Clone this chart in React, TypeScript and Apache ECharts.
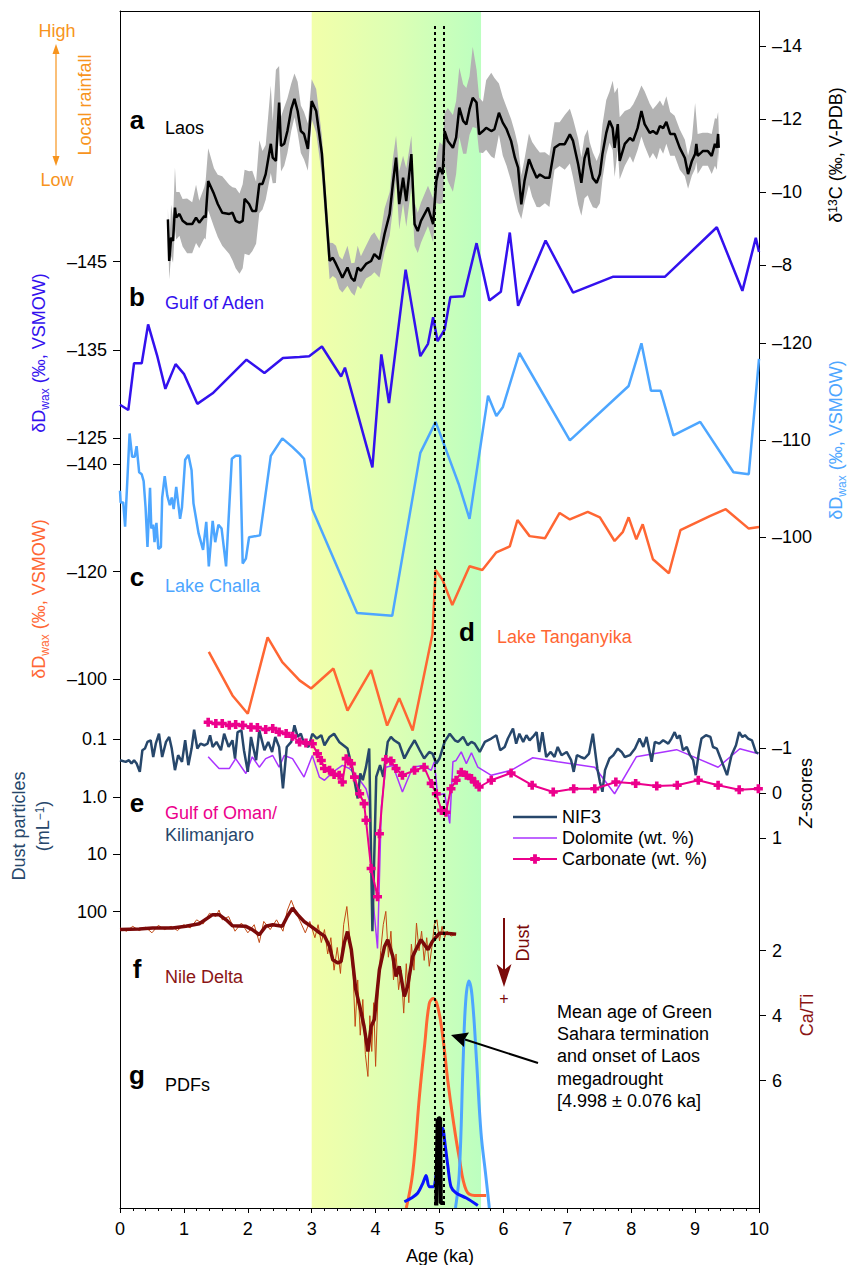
import React, { useEffect, useRef } from 'react';
import * as echarts from 'echarts';

// ---------- DATA ----------
// a: Laos stalagmite d13C (permil V-PDB): [age ka, d13C, band above, band below]
const laos: [number, number, number, number][] = [
  [0.75,-9.25,0.3,0.2],[0.77,-8.11,0.4,0.5],[0.80,-8.75,0.9,0.5],[0.83,-8.66,0.6,0.6],[0.86,-9.57,1.1,0.6],
  [0.88,-9.30,0.7,0.6],[0.93,-9.40,0.6,0.6],[0.98,-9.21,0.6,0.7],[1.05,-9.12,0.7,0.8],[1.13,-9.12,0.6,0.8],
  [1.19,-9.30,0.9,0.7],[1.24,-9.16,0.6,0.7],[1.32,-9.34,0.8,0.6],[1.34,-9.30,1.0,0.6],[1.38,-10.30,0.9,0.8],
  [1.47,-9.95,0.7,0.9],[1.53,-9.67,0.8,0.9],[1.60,-9.43,1.0,0.9],[1.71,-9.40,0.8,1.1],[1.76,-9.43,0.7,1.3],
  [1.81,-9.21,0.9,1.3],[1.87,-9.16,0.8,1.4],[1.92,-9.21,1.0,1.3],[1.95,-9.81,0.8,1.5],[2.02,-9.67,0.9,1.4],
  [2.07,-9.48,1.1,1.1],[2.13,-9.48,0.8,0.9],[2.18,-10.22,1.2,0.8],[2.23,-10.22,0.9,0.7],[2.28,-10.49,0.8,0.7],
  [2.36,-11.32,1.6,0.8],[2.39,-10.94,1.0,0.7],[2.44,-10.85,2.5,0.6],[2.49,-12.45,1.0,0.8],[2.52,-11.26,0.8,0.7],
  [2.57,-11.32,1.0,0.6],[2.62,-11.67,0.9,0.6],[2.68,-12.27,0.7,0.6],[2.73,-12.55,0.7,0.5],[2.78,-12.22,0.8,0.6],
  [2.83,-11.67,0.7,0.6],[2.88,-11.59,0.6,0.7],[2.94,-11.18,0.7,0.6],[3.00,-12.49,0.6,0.5],[3.07,-12.22,0.6,0.6],
  [3.16,-11.04,0.5,0.6],[3.28,-8.11,0.5,0.5],[3.33,-8.20,0.4,0.5],[3.38,-8.03,0.5,0.4],[3.43,-7.84,0.4,0.5],
  [3.48,-7.65,0.5,0.4],[3.56,-7.93,0.6,0.5],[3.62,-7.65,0.4,0.4],[3.67,-7.56,0.5,0.4],[3.72,-7.93,0.6,0.5],
  [3.77,-7.84,0.4,0.5],[3.85,-8.03,0.5,0.4],[3.93,-8.11,0.7,0.4],[3.98,-8.30,0.6,0.5],[4.06,-8.16,0.5,0.5],
  [4.14,-8.85,0.7,0.5],[4.22,-9.40,0.6,0.6],[4.27,-10.22,0.7,0.7],[4.32,-10.94,0.6,0.6],[4.37,-9.67,0.9,0.7],
  [4.43,-10.39,0.6,0.7],[4.48,-9.75,0.9,0.7],[4.56,-11.04,0.5,0.9],[4.61,-9.12,0.6,0.6],[4.66,-8.93,0.5,0.6],
  [4.71,-9.21,0.5,0.6],[4.82,-9.57,0.6,0.5],[4.90,-9.12,0.7,0.5],[4.95,-10.30,0.6,0.6],[5.00,-10.67,0.7,1.0],
  [5.05,-10.49,0.8,0.8],[5.08,-11.67,0.5,0.9],[5.13,-11.40,0.9,1.1],[5.21,-11.21,0.9,1.2],[5.26,-11.49,1.0,1.0],
  [5.31,-12.31,1.1,0.8],[5.37,-11.95,1.0,0.9],[5.42,-11.85,1.0,0.8],[5.47,-12.27,0.9,0.7],[5.52,-12.58,1.4,0.8],
  [5.58,-12.45,0.9,0.7],[5.62,-11.58,1.0,0.5],[5.68,-11.67,0.8,0.6],[5.73,-11.76,1.3,0.6],[5.81,-11.67,1.6,0.7],
  [5.86,-11.72,1.4,0.8],[5.93,-12.17,0.8,0.6],[5.99,-11.90,0.7,0.9],[6.05,-11.72,0.6,1.0],[6.12,-11.40,0.6,1.1],
  [6.18,-10.94,0.7,1.1],[6.23,-10.67,0.6,1.2],[6.28,-9.66,0.8,0.4],[6.33,-10.30,0.6,0.6],[6.40,-10.90,0.7,0.7],
  [6.45,-10.67,0.7,0.8],[6.52,-10.39,0.8,0.8],[6.57,-10.48,0.6,0.9],[6.65,-10.39,0.7,0.7],[6.72,-10.39,0.6,0.8],
  [6.80,-11.21,0.7,0.6],[6.88,-11.31,0.6,0.6],[6.96,-11.31,0.8,0.7],[7.04,-11.58,0.7,0.8],[7.09,-11.40,0.6,1.0],
  [7.17,-10.76,0.7,1.1],[7.22,-10.25,0.7,0.9],[7.27,-10.93,0.6,1.1],[7.32,-11.21,0.5,1.3],[7.35,-10.77,0.6,1.0],
  [7.40,-10.38,0.7,0.8],[7.46,-10.25,0.6,0.7],[7.51,-10.49,0.6,0.8],[7.55,-11.04,0.8,0.7],[7.61,-11.62,0.9,0.6],
  [7.66,-11.95,0.8,0.6],[7.71,-11.75,1.3,0.6],[7.74,-11.21,1.5,0.8],[7.79,-11.86,1.0,0.7],[7.82,-10.85,1.2,0.5],
  [7.90,-11.32,0.9,0.6],[7.98,-11.48,0.8,0.5],[8.03,-11.40,1.0,0.6],[8.10,-11.75,0.9,0.6],[8.16,-12.22,0.7,0.7],
  [8.21,-11.86,0.9,0.6],[8.29,-11.62,0.8,0.7],[8.34,-11.67,0.6,0.6],[8.40,-11.59,0.8,0.7],[8.45,-11.81,0.7,0.6],
  [8.50,-11.75,0.6,0.7],[8.55,-11.92,0.7,0.6],[8.61,-11.59,0.6,0.6],[8.68,-11.59,0.5,0.6],[8.76,-11.21,0.5,0.6],
  [8.84,-10.93,0.5,0.5],[8.89,-10.49,0.5,0.4],[8.95,-10.85,0.6,0.4],[9.00,-11.04,1.4,0.4],[9.02,-11.32,0.7,0.5],
  [9.04,-10.99,0.6,0.5],[9.12,-11.12,0.5,0.4],[9.20,-11.12,0.5,0.4],[9.26,-10.99,0.6,0.5],[9.31,-11.32,0.7,0.6],
  [9.34,-11.21,0.8,0.6],[9.36,-11.59,0.6,0.5],[9.37,-11.21,0.5,0.4],
];

// b: Gulf of Aden dDwax (permil VSMOW)
const aden: [number, number][] = [
  [0.00,-128.8],[0.13,-128.2],[0.22,-133.5],[0.34,-133.5],[0.44,-137.9],[0.58,-134.4],[0.71,-130.6],[0.87,-133.4],
  [1.00,-132.3],[1.21,-128.9],[1.45,-130.1],[1.98,-133.9],[2.26,-132.4],[2.55,-134.1],[2.81,-134.2],[2.96,-134.3],
  [3.16,-135.4],[3.46,-132.0],[3.52,-133.0],[3.95,-121.7],[4.09,-134.5],[4.21,-129.0],[4.47,-144.1],[4.70,-134.3],
  [4.82,-135.7],[4.90,-138.7],[4.97,-136.0],[5.08,-137.3],[5.17,-141.0],[5.38,-141.1],[5.58,-147.1],[5.78,-140.6],
  [5.96,-141.6],[6.10,-148.3],[6.23,-140.0],[6.66,-147.4],[7.09,-141.5],[7.72,-143.3],[8.53,-143.3],[9.34,-148.9],
  [9.74,-141.7],[9.95,-147.7],[10.0,-146.1],
];

// c: Lake Challa dDwax (permil VSMOW)
const challa: [number, number][] = [
  [0.00,-104.8],[0.01,-103.6],[0.05,-103.6],[0.08,-101.1],[0.15,-110.7],[0.19,-108.3],[0.23,-108.3],[0.26,-109.4],
  [0.30,-106.7],[0.34,-106.5],[0.37,-105.8],[0.40,-103.1],[0.43,-99.0],[0.47,-105.1],[0.49,-100.9],[0.52,-101.3],
  [0.54,-99.5],[0.57,-101.5],[0.60,-98.8],[0.64,-99.0],[0.66,-104.1],[0.70,-106.3],[0.74,-104.3],[0.78,-103.3],
  [0.81,-104.1],[0.84,-102.9],[0.88,-105.2],[0.94,-101.9],[0.97,-103.1],[1.02,-108.0],[1.07,-108.5],[1.12,-106.9],
  [1.15,-103.5],[1.23,-100.4],[1.30,-98.7],[1.35,-101.6],[1.39,-97.0],[1.45,-101.7],[1.49,-99.5],[1.54,-101.3],
  [1.59,-100.9],[1.66,-97.0],[1.75,-108.1],[1.81,-108.4],[1.88,-108.4],[1.92,-97.3],[1.97,-97.8],[2.02,-100.0],
  [2.19,-100.2],[2.36,-108.4],[2.54,-110.2],[2.70,-109.3],[2.81,-108.6],[2.88,-108.1],[3.01,-102.9],[3.71,-92.2],
  [4.26,-91.9],[4.70,-108.7],[4.94,-111.9],[5.30,-105.5],[5.47,-101.9],[5.76,-114.6],[5.89,-112.5],[5.99,-113.4],
  [6.25,-119.0],[7.04,-110.0],[7.96,-115.6],[8.16,-120.0],[8.31,-115.1],[8.46,-115.1],[8.66,-110.5],[9.08,-111.9],
  [9.60,-106.7],[9.84,-106.5],[10.0,-118.4],
];

// d: Lake Tanganyika dDwax (permil VSMOW)
const tanganyika: [number, number][] = [
  [1.39,-105.1],[1.76,-97.0],[2.00,-93.6],[2.31,-107.8],[2.54,-103.2],[2.81,-99.8],[2.99,-98.3],[3.34,-102.0],
  [3.56,-94.2],[3.93,-101.7],[4.18,-91.4],[4.37,-96.5],[4.58,-90.5],[4.89,-108.4],[4.94,-120.3],[5.05,-118.4],
  [5.20,-113.8],[5.47,-121.0],[5.67,-120.3],[5.89,-123.6],[6.10,-124.7],[6.22,-129.6],[6.41,-126.6],[6.65,-126.2],
  [6.88,-130.9],[7.04,-129.7],[7.32,-131.1],[7.51,-130.1],[7.74,-125.7],[7.87,-127.4],[7.96,-130.1],[8.08,-126.0],
  [8.18,-128.8],[8.34,-122.3],[8.59,-119.7],[8.77,-127.7],[9.23,-130.3],[9.48,-131.6],[9.84,-128.0],[10.0,-128.3],
];

// e: Kilimanjaro NIF3 dust particles (mL-1)
const nif3: [number, number][] = [
  [0.00,0.231],[0.09,0.247],[0.14,0.231],[0.18,0.264],[0.22,0.231],[0.26,0.264],[0.31,0.369],[0.35,0.155],[0.39,0.145],[0.43,0.111],
  [0.48,0.104],[0.52,0.203],[0.56,0.119],[0.61,0.080],[0.66,0.203],[0.72,0.111],[0.77,0.091],[0.81,0.145],[0.86,0.344],[0.91,0.189],
  [0.97,0.247],[1.02,0.104],[1.07,0.282],[1.12,0.145],[1.16,0.068],[1.21,0.145],[1.26,0.119],[1.32,0.127],[1.37,0.119],[1.41,0.085],
  [1.45,0.136],[1.51,0.111],[1.58,0.155],[1.63,0.080],[1.70,0.136],[1.76,0.104],[1.80,0.216],[1.84,0.075],[1.90,0.070],[1.94,0.155],
  [2.00,0.369],[2.05,0.091],[2.13,0.231],[2.18,0.070],[2.26,0.155],[2.32,0.111],[2.38,0.166],[2.43,0.091],[2.49,0.136],[2.55,0.715],
  [2.61,0.136],[2.68,0.111],[2.73,0.057],[2.78,0.091],[2.83,0.080],[2.88,0.119],[2.95,0.136],[3.01,0.080],[3.08,0.097],[3.15,0.085],
  [3.20,0.127],[3.28,0.091],[3.35,0.080],[3.43,0.111],[3.56,0.145],[3.63,0.302],[3.72,1.07],[3.76,0.393],[3.80,0.514],[3.85,0.302],
  [3.90,0.145],[3.95,219],[4.01,0.450],[4.07,0.282],[4.12,0.450],[4.19,0.111],[4.24,0.091],[4.29,0.104],[4.37,0.119],[4.45,0.216],
  [4.53,0.145],[4.61,0.104],[4.69,0.155],[4.76,0.216],[4.84,0.166],[4.89,0.177],[4.95,0.264],[5.00,0.216],[5.08,0.111],[5.16,0.080],
  [5.24,0.104],[5.29,0.111],[5.37,0.091],[5.44,0.127],[5.50,0.111],[5.55,0.119],[5.63,0.166],[5.71,0.111],[5.81,0.097],[5.89,0.085],
  [5.95,0.155],[6.02,0.136],[6.07,0.097],[6.15,0.065],[6.20,0.119],[6.25,0.080],[6.31,0.111],[6.36,0.085],[6.41,0.104],[6.46,0.091],
  [6.52,0.075],[6.56,0.166],[6.61,0.075],[6.67,0.203],[6.74,0.166],[6.80,0.203],[6.85,0.136],[6.91,0.189],[6.99,0.166],[7.06,0.231],
  [7.10,0.369],[7.15,0.189],[7.21,0.203],[7.27,0.216],[7.34,0.177],[7.40,0.080],[7.47,0.322],[7.51,0.55],[7.55,0.819],[7.59,0.344],
  [7.66,0.216],[7.72,0.189],[7.79,0.145],[7.85,0.166],[7.90,0.203],[7.98,0.189],[8.06,0.145],[8.13,0.097],[8.19,0.136],[8.24,0.091],
  [8.32,0.247],[8.37,0.111],[8.44,0.119],[8.50,0.104],[8.58,0.119],[8.63,0.097],[8.68,0.075],[8.72,0.097],[8.76,0.085],[8.81,0.155],
  [8.87,0.136],[8.92,0.189],[8.97,0.231],[9.01,0.421],[9.06,0.166],[9.10,0.097],[9.17,0.085],[9.24,0.091],[9.28,0.136],[9.34,0.145],
  [9.39,0.203],[9.45,0.302],[9.50,0.421],[9.57,0.189],[9.64,0.127],[9.69,0.075],[9.74,0.091],[9.78,0.085],[9.83,0.097],[9.89,0.104],
  [9.95,0.166],[9.99,0.177],
];

// e: Gulf of Oman dolomite (Z-score)
const dolomite: [number, number][] = [
  [1.38,-0.81],[1.55,-0.55],[1.71,-0.55],[1.81,-0.77],[1.97,-0.44],[2.07,-0.81],[2.18,-0.58],[2.28,-0.77],[2.39,-0.84],
  [2.49,-0.58],[2.57,-0.84],[2.70,-0.77],[2.88,-0.36],[3.01,-0.84],[3.12,-0.36],[3.20,-0.29],[3.33,-0.47],[3.48,-0.62],
  [3.59,-0.55],[3.72,-0.36],[3.85,-0.10],[3.90,0.16],[3.95,2.23],[4.03,3.45],[4.09,0.30],[4.16,-0.58],[4.27,-0.62],
  [4.42,-0.03],[4.58,-0.58],[4.74,-0.62],[4.87,-0.51],[4.92,-0.70],[4.97,0.04],[5.08,0.01],[5.16,0.67],[5.21,-0.70],
  [5.26,-0.73],[5.34,-0.92],[5.42,-0.66],[5.50,-0.90],[5.60,-0.58],[5.81,-0.40],[6.12,-0.51],[6.46,-0.79],[6.85,-0.70],
  [7.43,-0.58],[7.74,0.01],[8.08,-0.81],[8.71,-0.97],[9.36,-0.58],[9.70,-0.99],[9.99,-0.88],
];

// e: Gulf of Oman carbonate (Z-score)
const carbonate: [number, number][] = [
  [1.38,-1.58],[1.50,-1.55],[1.60,-1.55],[1.71,-1.51],[1.81,-1.53],[1.92,-1.51],[2.05,-1.47],[2.15,-1.46],[2.28,-1.42],
  [2.39,-1.44],[2.49,-1.36],[2.60,-1.33],[2.70,-1.27],[2.81,-1.14],[2.91,-1.12],[3.01,-1.10],[3.09,-0.88],[3.15,-0.73],
  [3.20,-0.55],[3.28,-0.51],[3.35,-0.42],[3.43,-0.40],[3.48,-0.25],[3.54,-0.77],[3.62,-0.66],[3.67,-0.36],[3.75,0.01],
  [3.82,0.23],[3.85,0.60],[3.93,1.67],[4.03,2.30],[4.06,0.90],[4.16,-0.75],[4.24,-0.72],[4.32,-0.55],[4.42,-0.40],
  [4.61,-0.51],[4.76,-0.58],[4.87,-0.22],[4.95,0.01],[5.03,0.38],[5.10,0.42],[5.18,-0.10],[5.26,-0.29],[5.34,-0.47],
  [5.42,-0.40],[5.50,-0.33],[5.55,-0.25],[5.62,-0.14],[5.81,-0.29],[6.12,-0.45],[6.45,-0.18],[6.78,-0.03],[7.10,-0.10],
  [7.43,-0.10],[7.76,-0.25],[8.07,-0.22],[8.40,-0.16],[8.72,-0.18],[9.05,-0.29],[9.36,-0.18],[9.69,-0.08],[9.99,-0.10],
];

// f: Nile Delta Ca/Ti, raw and smoothed
const nileRaw: [number, number][] = [
  [0.00,1.30],[0.10,1.40],[0.20,1.25],[0.30,1.38],[0.40,1.28],[0.50,1.45],[0.60,1.22],[0.70,1.35],[0.80,1.25],[0.90,1.38],
  [1.00,1.20],[1.10,1.30],[1.20,1.05],[1.30,1.18],[1.40,0.85],[1.50,0.95],[1.55,0.75],[1.60,1.05],[1.70,0.95],[1.80,1.40],
  [1.90,1.15],[2.00,1.45],[2.10,1.20],[2.18,1.75],[2.25,1.10],[2.35,1.35],[2.45,1.05],[2.55,1.40],[2.62,0.75],[2.68,0.45],
  [2.75,0.80],[2.82,1.10],[2.90,1.45],[2.97,1.10],[3.05,1.60],[3.10,1.20],[3.15,1.75],[3.20,1.35],[3.25,2.10],[3.30,1.60],
  [3.35,2.60],[3.40,1.90],[3.45,2.70],[3.50,1.20],[3.55,0.64],[3.60,1.70],[3.65,2.80],[3.68,4.33],[3.72,2.90],[3.76,4.60],
  [3.80,3.50],[3.84,5.20],[3.88,5.87],[3.91,4.00],[3.94,5.10],[3.97,3.60],[4.00,5.56],[4.04,3.20],[4.08,2.00],[4.12,1.20],
  [4.16,0.79],[4.20,2.20],[4.24,1.40],[4.28,2.90],[4.32,2.10],[4.36,3.20],[4.40,2.60],[4.44,3.92],[4.48,2.40],[4.52,3.60],
  [4.56,1.80],[4.60,2.60],[4.64,1.15],[4.68,2.00],[4.72,1.40],[4.76,2.30],[4.80,1.60],[4.84,2.48],[4.88,1.90],[4.92,1.20],
  [4.96,1.05],[5.00,1.70],[5.04,1.25],[5.08,1.60],[5.12,1.40],[5.18,1.55],[5.26,1.50],
];
const nileSmooth: [number, number][] = [
  [0.00,1.35],[0.30,1.33],[0.51,1.30],[0.82,1.30],[1.03,1.25],[1.24,1.17],[1.45,0.89],[1.55,0.89],[1.66,1.05],[1.76,1.23],
  [1.97,1.25],[2.07,1.35],[2.18,1.51],[2.28,1.25],[2.39,1.20],[2.54,1.25],[2.62,0.94],[2.70,0.69],[2.78,0.89],[2.88,1.10],
  [2.99,1.25],[3.09,1.40],[3.20,1.55],[3.28,1.87],[3.33,2.28],[3.41,2.38],[3.46,2.33],[3.51,1.76],[3.56,1.41],[3.62,1.97],
  [3.69,3.20],[3.77,3.87],[3.82,4.33],[3.88,5.10],[3.93,4.33],[3.98,4.12],[4.06,2.58],[4.14,1.87],[4.19,1.66],[4.27,2.18],
  [4.32,2.79],[4.37,2.48],[4.45,3.41],[4.50,3.10],[4.58,2.18],[4.63,1.97],[4.71,1.66],[4.82,1.97],[4.89,1.71],[5.00,1.46],
  [5.10,1.46],[5.26,1.49],
];

// g: probability density functions of the termination age (arbitrary units)
const pdfTanganyika: [number, number][] = [
  [4.48,0],[4.58,0.14],[4.69,0.46],[4.77,0.66],[4.84,0.82],[4.90,0.84],[4.97,0.81],[5.05,0.69],[5.13,0.51],[5.21,0.36],
  [5.31,0.20],[5.42,0.07],[5.55,0.05],[5.73,0.05],
];
const pdfChalla: [number, number][] = [
  [5.25,0],[5.31,0.14],[5.37,0.59],[5.41,0.83],[5.46,0.91],[5.51,0.85],[5.58,0.59],[5.65,0.30],[5.72,0.14],[5.78,0],
];
const pdfAden: [number, number][] = [
  [4.45,0.025],[4.56,0.04],[4.66,0.06],[4.74,0.10],[4.79,0.13],[4.84,0.085],[4.90,0.085],[4.95,0.14],[5.00,0.25],[5.05,0.32],
  [5.09,0.25],[5.13,0.17],[5.18,0.085],[5.26,0.06],[5.42,0.04],[5.60,0.01],
];
const pdfLaos: [number, number][] = [
  [4.95,0.01],[4.97,0.35],[4.99,0.36],[5.01,0.36],[5.02,0.02],[5.08,0.02],
];

// shaded Green Sahara termination window and mean age bounds (ka)
const shadeRange = [3.0, 5.65];
const meanAge = 4.998;
const meanAgeErr = 0.076;

// axis tick values
const ticksAden = [-145, -135, -125];
const ticksTang = [-140, -120, -100];
const ticksDust = [0.1, 1, 10, 100];
const ticksD13C = [-14, -12, -10, -8];
const ticksChalla = [-120, -110, -100];
const ticksZ = [-1, 0, 1];
const ticksCaTi = [2, 4, 6];

// ---------- LAYOUT ----------
const FF = '"Liberation Sans", Arial, Helvetica, sans-serif';
const TOP = 11;
const BOT = 1208;
function span(v0: number, p0: number, v1: number, p1: number) {
  const k = (v1 - v0) / (p1 - p0);
  return { min: v0 - (p0 - TOP) * k, max: v0 + (BOT - p0) * k };
}

const C = {
  orangeR: '#f7941d',
  aden: '#3311ee',
  challa: '#4da6ff',
  tang: '#ff6633',
  nif: '#27476b',
  dol: '#aa33ff',
  carb: '#ec008c',
  nileThick: '#7b0a0a',
  nileThin: '#c24a14',
  pdfBlue: '#0a14ff',
  grey: '#b3b3b3',
};

const dash = (v: number) => (v < 0 ? '\u2013' + Math.abs(v) : String(v));

function yAx(pos: string, sp: { min: number; max: number }, ticks: number[], fmt: (v: number) => string, extra: any = {}) {
  return {
    type: 'value',
    position: pos,
    inverse: true,
    min: sp.min,
    max: sp.max,
    axisLine: { show: false, onZero: false, lineStyle: { color: '#000', width: 1 } },
    axisTick: { show: true, length: 7, customValues: ticks, lineStyle: { color: '#000', width: 1 } },
    axisLabel: { customValues: ticks, margin: 13, fontSize: 18, fontFamily: FF, color: '#000', formatter: fmt },
    splitLine: { show: false },
    ...extra,
  };
}

function txt(x: number, y: number, text: string, color: string, opts: any = {}) {
  return {
    type: 'text', x, y, z: 100, rotation: opts.rotation || 0,
    style: {
      text, fill: color, fontSize: opts.size || 18, fontFamily: FF, fontWeight: opts.weight || 'normal',
      align: opts.align || 'left', verticalAlign: 'middle', rich: opts.rich, lineHeight: opts.lineHeight,
    },
  };
}
const rot = Math.PI / 2;
const subRich = (color: string) => ({
  a: { fontSize: 18, fontFamily: FF, fill: color, verticalAlign: 'bottom', padding: [0, 0, 3, 0] },
  s: { fontSize: 12, fontFamily: FF, fill: color, verticalAlign: 'bottom' },
  p: { fontSize: 12, fontFamily: FF, fill: color, verticalAlign: 'top' },
  z: { fontSize: 18, fontFamily: FF, fill: color, fontStyle: 'italic', verticalAlign: 'bottom', padding: [0, 0, 3, 0] },
});
const lineIcon = (w: number) =>
  `path://M0,0h44v0.01h-44zM0,${(6 - w / 2).toFixed(2)}h44v${w}h-44zM0,11.99h44v0.01h-44z`;

function buildOption() {
  const dustLog = span(-1, 739.3, 2, 911.7);
  const yAxes = [
    yAx('left', span(-145, 261.7, -125, 438.3), ticksAden, dash, {
      axisLine: { show: true, onZero: false, lineStyle: { color: '#000', width: 1 } },
    }),
    yAx('left', span(-140, 464, -100, 679.3), ticksTang, dash),
    {
      ...yAx('left', { min: Math.pow(10, dustLog.min), max: Math.pow(10, dustLog.max) }, ticksDust,
        (v: number) => (v < 0.5 ? '0.1' : v < 5 ? '1.0' : String(Math.round(v)))),
      type: 'log', logBase: 10,
    },
    yAx('right', span(-14, 46, -8, 265), ticksD13C, dash, {
      axisLine: { show: true, onZero: false, lineStyle: { color: '#000', width: 1 } },
    }),
    yAx('right', span(-120, 343.3, -100, 537.3), ticksChalla, dash),
    yAx('right', span(-1, 748.3, 1, 838.3), ticksZ, dash),
    yAx('right', span(2, 950.7, 6, 1080.7), ticksCaTi, dash),
    { type: 'value', show: false, min: 0, max: 4.8, position: 'left', axisLine: { onZero: false } },
  ];

  const line = (name: string, data: any, yIdx: number, color: string, width: number, extra: any = {}) => ({
    type: 'line', name, data, yAxisIndex: yIdx, xAxisIndex: 0, symbol: 'none', showSymbol: false,
    lineStyle: { color, width }, itemStyle: { color }, silent: true, ...extra,
  });

  const series: any[] = [
    {
      type: 'custom', name: 'laosBand', xAxisIndex: 0, yAxisIndex: 3, silent: true,
      data: laos.map((r) => [r[0], r[1] - r[2], r[1] + r[3]]),
      encode: { x: 0, y: [1, 2] },
      renderItem: (params: any, api: any) => {
        if (params.dataIndex !== 0) return null;
        const upper = laos.map((r) => api.coord([r[0], r[1] - r[2]]));
        const lower = laos.slice().reverse().map((r) => api.coord([r[0], r[1] + r[3]]));
        return { type: 'polygon', shape: { points: upper.concat(lower) }, style: { fill: C.grey } };
      },
    },
    line('Laos', laos.map((r) => [r[0], r[1]]), 3, '#000', 2.5),
    line('Gulf of Aden', aden, 0, C.aden, 2.5),
    line('Lake Challa', challa, 4, C.challa, 2.5),
    line('Lake Tanganyika', tanganyika, 1, C.tang, 2.5),
    line('Dolomite (wt. %)', dolomite, 5, C.dol, 1.5),
    line('NIF3', nif3, 2, C.nif, 2.5),
    line('Carbonate (wt. %)', carbonate, 5, C.carb, 2, {
      symbol: 'path://M3,0h4v3h3v4h-3v3h-4v-3h-3v-4h3z', showSymbol: true, symbolSize: 9,
    }),
    line('nileRaw', nileRaw, 6, C.nileThin, 1),
    line('nileSmooth', nileSmooth, 6, C.nileThick, 3.5),
    line('pdfTanganyika', pdfTanganyika, 7, C.tang, 3, {
      smooth: 0.4,
      markArea: {
        silent: true, z: 1,
        itemStyle: {
          color: new echarts.graphic.LinearGradient(0, 0, 1, 0, [
            { offset: 0, color: '#f2ffaa' },
            { offset: 0.5, color: '#dcffb4' },
            { offset: 1, color: '#bcffc0' },
          ]),
        },
        label: { show: false },
        data: [[{ xAxis: shadeRange[0] }, { xAxis: shadeRange[1] }]],
      },
      markLine: {
        silent: true, symbol: ['none', 'none'], label: { show: false },
        lineStyle: { color: '#000', width: 2, type: [3, 3] },
        data: [
          [{ coord: [meanAge - meanAgeErr, 4.74] }, { coord: [meanAge - meanAgeErr, 0] }],
          [{ coord: [meanAge + meanAgeErr, 4.74] }, { coord: [meanAge + meanAgeErr, 0] }],
        ],
      },
    }),
    line('pdfChalla', pdfChalla, 7, C.challa, 3, { smooth: 0.4 }),
    line('pdfAden', pdfAden, 7, C.pdfBlue, 3, { smooth: 0.3 }),
    line('pdfLaos', pdfLaos, 7, '#000', 4),
  ];

  const graphics: any[] = [
    // local rainfall indicator
    txt(57, 31, 'High', C.orangeR, { align: 'center' }),
    txt(57, 180, 'Low', C.orangeR, { align: 'center' }),
    txt(85, 105, 'Local rainfall', C.orangeR, { align: 'center', rotation: rot }),
    { type: 'line', z: 100, shape: { x1: 56, y1: 52, x2: 56, y2: 158 }, style: { stroke: C.orangeR, lineWidth: 1.2 } },
    { type: 'polygon', z: 100, shape: { points: [[56, 44], [52.5, 54], [59.5, 54]] }, style: { fill: C.orangeR } },
    { type: 'polygon', z: 100, shape: { points: [[56, 166], [52.5, 156], [59.5, 156]] }, style: { fill: C.orangeR } },
    // panel letters and names
    txt(137, 120, 'a', '#000', { size: 26, weight: 'bold', align: 'center' }),
    txt(165, 128, 'Laos', '#000'),
    txt(137, 297, 'b', '#000', { size: 26, weight: 'bold', align: 'center' }),
    txt(165, 303, 'Gulf of Aden', C.aden),
    txt(137, 577, 'c', '#000', { size: 26, weight: 'bold', align: 'center' }),
    txt(165, 586, 'Lake Challa', C.challa),
    txt(467, 632, 'd', '#000', { size: 26, weight: 'bold', align: 'center' }),
    txt(497, 637, 'Lake Tanganyika', C.tang),
    txt(137, 803, 'e', '#000', { size: 26, weight: 'bold', align: 'center' }),
    txt(165, 813, 'Gulf of Oman/', C.carb),
    txt(165, 835, 'Kilimanjaro', C.nif),
    txt(137, 969, 'f', '#000', { size: 26, weight: 'bold', align: 'center' }),
    txt(165, 977, 'Nile Delta', '#8b1515'),
    txt(137, 1075, 'g', '#000', { size: 26, weight: 'bold', align: 'center' }),
    txt(165, 1085, 'PDFs', '#000'),
    // axis titles
    txt(40, 353, '{a|\u03B4D}{s|wax}{a| (\u2030, VSMOW)}', C.aden, { align: 'center', rotation: rot, rich: subRich(C.aden) }),
    txt(40, 599, '{a|\u03B4D}{s|wax}{a| (\u2030, VSMOW)}', C.tang, { align: 'center', rotation: rot, rich: subRich(C.tang) }),
    txt(19, 826, 'Dust particles', C.nif, { align: 'center', rotation: rot }),
    txt(44, 826, '{a|(mL}{p|\u22121}{a|)}', C.nif, { align: 'center', rotation: rot, rich: subRich(C.nif) }),
    txt(837, 155, '{a|\u03B4}{p|13}{a|C (\u2030, V-PDB)}', '#000', { align: 'center', rotation: rot, rich: subRich('#000') }),
    txt(837, 440, '{a|\u03B4D}{s|wax}{a| (\u2030, VSMOW)}', C.challa, { align: 'center', rotation: rot, rich: subRich(C.challa) }),
    txt(807, 793, '{z|Z}{a|-scores}', '#000', { align: 'center', rotation: rot, rich: subRich('#000') }),
    txt(807, 1015, 'Ca/Ti', '#8b1515', { align: 'center', rotation: rot }),
    txt(440, 1256, 'Age (ka)', '#000', { align: 'center' }),
    // dust direction arrow
    { type: 'line', z: 100, shape: { x1: 504, y1: 918, x2: 504, y2: 970 }, style: { stroke: C.nileThick, lineWidth: 2 } },
    { type: 'polygon', z: 100, shape: { points: [[504, 987], [496.5, 964], [504, 970], [511.5, 964]] }, style: { fill: C.nileThick } },
    txt(523, 943, 'Dust', C.nileThick, { align: 'center', rotation: rot }),
    txt(504, 998, '+', C.nileThick, { align: 'center', size: 16 }),
    // annotation
    {
      type: 'text', x: 557, y: 1000.6, z: 100,
      style: {
        text: 'Mean age of Green\nSahara termination\nand onset of Laos\nmegadrought\n[4.998 \u00B1 0.076 ka]',
        fill: '#000', fontSize: 18, fontFamily: FF, lineHeight: 22.3, align: 'left', verticalAlign: 'top',
      },
    },
    { type: 'line', z: 100, shape: { x1: 538, y1: 1063, x2: 465, y2: 1039.5 }, style: { stroke: '#000', lineWidth: 2 } },
    { type: 'polygon', z: 100, shape: { points: [[451, 1035], [469, 1032.5], [464.5, 1039.5], [464, 1047]] }, style: { fill: '#000' } },
  ];

  return {
    animation: false,
    backgroundColor: '#fff',
    grid: { left: 120, right: 89, top: TOP, bottom: 1265 - BOT, containLabel: false },
    legend: {
      left: 507, top: 803, orient: 'vertical', itemWidth: 44, itemHeight: 12, itemGap: 3,
      selectedMode: false,
      textStyle: { fontSize: 18, fontFamily: FF, color: '#000' },
      data: [
        { name: 'NIF3', icon: lineIcon(2.5) },
        { name: 'Dolomite (wt. %)', icon: lineIcon(1.5) },
        { name: 'Carbonate (wt. %)' },
      ],
    },
    xAxis: [
      {
        type: 'value', position: 'bottom', min: 0, max: 10, interval: 1, z: 5,
        axisLine: { show: true, onZero: false, lineStyle: { color: '#000', width: 1 } },
        axisTick: { show: true, length: 5, lineStyle: { color: '#000', width: 1 } },
        minorTick: { show: true, splitNumber: 5, length: 3, lineStyle: { color: '#000', width: 1 } },
        axisLabel: { margin: 12, fontSize: 18, fontFamily: FF, color: '#000' },
        splitLine: { show: false },
        minorSplitLine: { show: false },
      },
      {
        type: 'value', position: 'top', min: 0, max: 10, z: 5,
        axisLine: { show: true, onZero: false, lineStyle: { color: '#000', width: 1 } },
        axisTick: { show: false }, axisLabel: { show: false }, splitLine: { show: false },
      },
    ],
    yAxis: yAxes,
    series,
    graphic: { elements: graphics },
  };
}

export default function App() {
  const ref = useRef<HTMLDivElement>(null);
  useEffect(() => {
    if (!ref.current) return;
    const chart = echarts.init(ref.current, null, { renderer: 'svg' });
    chart.setOption(buildOption() as any);
    return () => chart.dispose();
  }, []);
  return (
    <div
      ref={ref}
      style={{ position: 'absolute', left: 0, top: 0, width: 848, height: 1265, background: '#fff' }}
    />
  );
}
